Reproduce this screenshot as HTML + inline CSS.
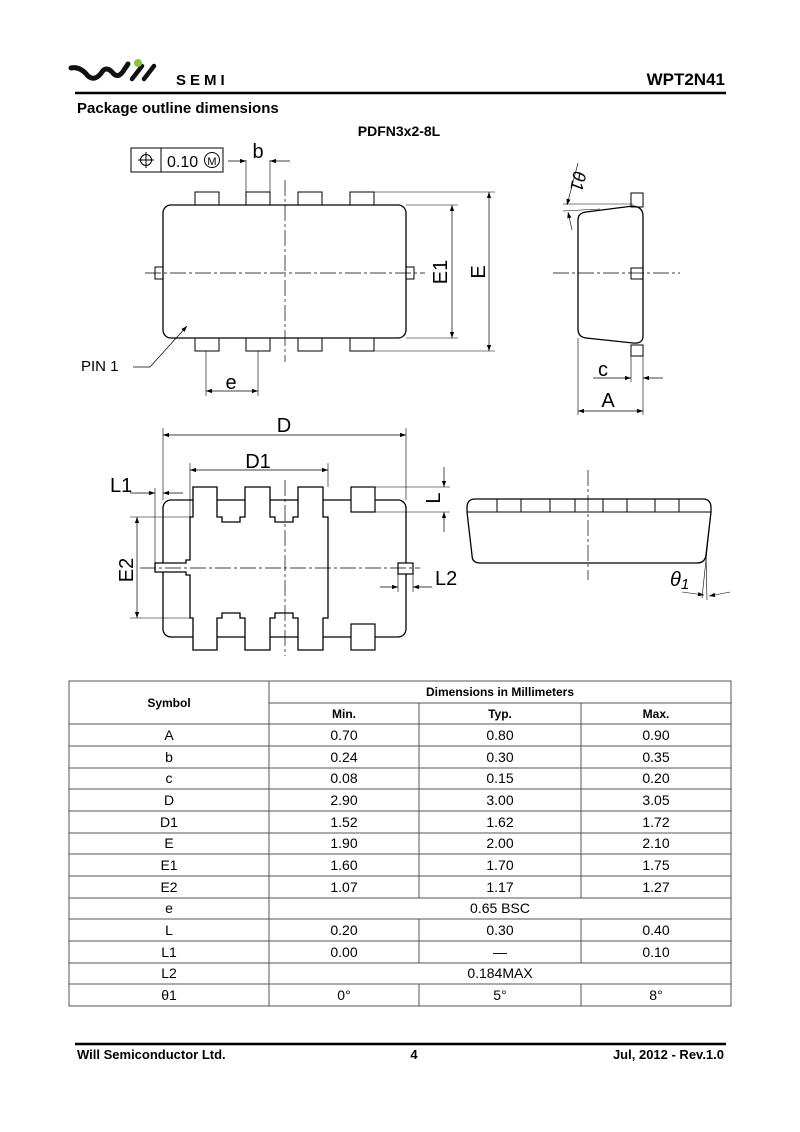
<!DOCTYPE html>
<html><head><meta charset="utf-8"><style>
html,body{margin:0;padding:0;background:#fff;}
svg{display:block;}
text{font-family:"Liberation Sans",sans-serif;fill:#000;}
.n{font-family:"Liberation Sans Narrow","Liberation Sans",sans-serif;font-size:14px;}
.b{font-weight:bold;}
</style></head><body>
<svg width="800" height="1132" viewBox="0 0 800 1132" xmlns="http://www.w3.org/2000/svg">
<defs>
<marker id="a" viewBox="0 0 10 10" refX="10" refY="5" markerWidth="9" markerHeight="6" orient="auto-start-reverse" markerUnits="userSpaceOnUse"><path d="M0,1.5 L10,5 L0,8.5 z" fill="#000"/></marker>
</defs>
<!-- header -->
<path d="M71,68 Q80,66 88,76 Q95,82 102,72 Q106,66 112,72 Q118,80 124,70 L128,64" fill="none" stroke="#111" stroke-width="5" stroke-linecap="round"/>
<path d="M132,79 L142,66 M144,79 L154,66" stroke="#111" stroke-width="4.5" stroke-linecap="round"/>
<circle cx="138" cy="63" r="4" fill="#8bc53f"/>
<text x="176" y="85" font-size="15" letter-spacing="4" font-weight="bold" fill="#222">SEMI</text>
<text x="725" y="85" font-size="17" class="b" text-anchor="end">WPT2N41</text>
<line x1="75" y1="93" x2="726" y2="93" stroke="#000" stroke-width="2.5"/>
<text x="77" y="113" font-size="15" class="b">Package outline dimensions</text>
<text x="399" y="136" font-size="14" class="b" text-anchor="middle">PDFN3x2-8L</text>

<g fill="none" stroke="#000" stroke-width="1">
<!-- tolerance box -->
<rect x="131" y="148" width="92" height="24"/>
<line x1="161" y1="148" x2="161" y2="172"/>
<circle cx="146" cy="160" r="5.5"/>
<line x1="146" y1="152" x2="146" y2="168"/><line x1="138" y1="160" x2="154" y2="160"/>
<circle cx="212" cy="160" r="7.5"/>
<!-- b dim -->
<line x1="246" y1="160" x2="246" y2="192" stroke-width="0.6"/><line x1="270" y1="160" x2="270" y2="192" stroke-width="0.6"/>
<line x1="228" y1="161" x2="246" y2="161" marker-end="url(#a)" stroke-width="0.7"/>
<line x1="290" y1="161" x2="270" y2="161" marker-end="url(#a)" stroke-width="0.7"/>
<!-- top view -->
<rect x="195" y="192" width="24" height="13"/><rect x="246" y="192" width="24" height="13"/><rect x="298" y="192" width="24" height="13"/><rect x="350" y="192" width="24" height="13"/>
<rect x="195" y="338" width="24" height="13"/><rect x="246" y="338" width="24" height="13"/><rect x="298" y="338" width="24" height="13"/><rect x="350" y="338" width="24" height="13"/>
<rect x="155" y="267" width="8" height="12"/><rect x="406" y="267" width="8" height="12"/>
<rect x="163" y="205" width="243" height="133" rx="8" stroke-width="1.3"/>
<line x1="285" y1="180" x2="285" y2="362" stroke-dasharray="16,3,3,3" stroke-width="0.7"/>
<line x1="145" y1="273" x2="425" y2="273" stroke-dasharray="16,3,3,3" stroke-width="0.7"/>
<!-- E1 E -->
<line x1="374" y1="192" x2="495" y2="192" stroke-width="0.6"/><line x1="374" y1="351" x2="495" y2="351" stroke-width="0.6"/>
<line x1="406" y1="205" x2="458" y2="205" stroke-width="0.6"/><line x1="406" y1="338" x2="458" y2="338" stroke-width="0.6"/>
<line x1="452" y1="205" x2="452" y2="338" marker-start="url(#a)" marker-end="url(#a)" stroke-width="0.7"/>
<line x1="489" y1="192" x2="489" y2="351" marker-start="url(#a)" marker-end="url(#a)" stroke-width="0.7"/>
<!-- pin1 -->
<polyline points="133,367 150,367 187,326" stroke-width="0.7" marker-end="url(#a)"/>
<!-- e -->
<line x1="206" y1="351" x2="206" y2="396" stroke-width="0.6"/><line x1="258" y1="351" x2="258" y2="396" stroke-width="0.6"/>
<line x1="206" y1="391" x2="258" y2="391" marker-start="url(#a)" marker-end="url(#a)" stroke-width="0.7"/>

<!-- right side view -->
<rect x="631" y="193" width="12" height="14"/><rect x="631" y="345" width="12" height="11"/>
<rect x="631" y="268" width="12" height="11"/>
<path d="M586,212 L633,206 Q643,207 643,216 L643,336 Q643,344 633,343 L586,338 Q578,337 578,329 L578,220 Q578,213 586,212 Z" stroke-width="1.3"/>
<line x1="553" y1="273" x2="680" y2="273" stroke-dasharray="16,3,3,3" stroke-width="0.7"/>
<line x1="563" y1="204" x2="633" y2="204" stroke-width="0.6"/>
<line x1="563" y1="211" x2="600" y2="209" stroke-width="0.6"/>
<path d="M578,163 L567,205" stroke-width="0.6" marker-end="url(#a)"/>
<path d="M572,230 L568,212" stroke-width="0.6" marker-end="url(#a)"/>
<line x1="578" y1="338" x2="578" y2="415" stroke-width="0.6"/><line x1="643" y1="356" x2="643" y2="415" stroke-width="0.6"/>
<line x1="631" y1="356" x2="631" y2="382" stroke-width="0.6"/>
<line x1="593" y1="378" x2="631" y2="378" marker-end="url(#a)" stroke-width="0.7"/>
<line x1="663" y1="378" x2="643" y2="378" marker-end="url(#a)" stroke-width="0.7"/>
<line x1="578" y1="411" x2="643" y2="411" marker-start="url(#a)" marker-end="url(#a)" stroke-width="0.7"/>

<!-- bottom view -->
<line x1="163" y1="428" x2="163" y2="500" stroke-width="0.6"/><line x1="406" y1="428" x2="406" y2="500" stroke-width="0.6"/>
<line x1="163" y1="435" x2="406" y2="435" marker-start="url(#a)" marker-end="url(#a)" stroke-width="0.7"/>
<line x1="190" y1="463" x2="190" y2="517" stroke-width="0.6"/><line x1="328" y1="463" x2="328" y2="487" stroke-width="0.6"/>
<line x1="190" y1="470" x2="328" y2="470" marker-start="url(#a)" marker-end="url(#a)" stroke-width="0.7"/>
<rect x="163" y="500" width="243" height="137" rx="8" stroke-width="1.3"/>
<path d="M193,487 L217,487 L217,517 L222,517 L222,522 L240,522 L240,517 L245,517 L245,487 L270,487 L270,517 L275,517 L275,522 L293,522 L293,517 L298,517 L298,487 L323,487 L323,517 L328,517 L328,618 L323,618 L323,650 L298,650 L298,618 L293,618 L293,613 L275,613 L275,618 L270,618 L270,650 L245,650 L245,618 L240,618 L240,613 L222,613 L222,618 L217,618 L217,650 L193,650 L193,618 L190,618 L190,575 L186,575 L186,572 L155,572 L155,563 L186,563 L186,560 L190,560 L190,517 L193,517 Z" fill="#fff" stroke-width="1.3"/>
<rect x="351" y="487" width="24" height="25" fill="#fff" stroke-width="1.2"/>
<rect x="351" y="624" width="24" height="26" fill="#fff" stroke-width="1.2"/>
<rect x="398" y="563" width="15" height="11" fill="#fff" stroke-width="1.2"/>
<line x1="285" y1="480" x2="285" y2="656" stroke-dasharray="16,3,3,3" stroke-width="0.7"/>
<line x1="140" y1="568" x2="420" y2="568" stroke-dasharray="16,3,3,3" stroke-width="0.7"/>
<!-- L1 -->
<line x1="155" y1="488" x2="155" y2="563" stroke-width="0.6"/>
<line x1="130" y1="493" x2="155" y2="493" marker-end="url(#a)" stroke-width="0.7"/>
<line x1="183" y1="493" x2="163" y2="493" marker-end="url(#a)" stroke-width="0.7"/>
<!-- L -->
<line x1="375" y1="487" x2="450" y2="487" stroke-width="0.6"/><line x1="375" y1="512" x2="450" y2="512" stroke-width="0.6"/>
<line x1="444" y1="467" x2="444" y2="487" marker-end="url(#a)" stroke-width="0.7"/>
<line x1="444" y1="532" x2="444" y2="512" marker-end="url(#a)" stroke-width="0.7"/>
<!-- E2 -->
<line x1="130" y1="517" x2="190" y2="517" stroke-width="0.6"/><line x1="130" y1="618" x2="190" y2="618" stroke-width="0.6"/>
<line x1="137" y1="517" x2="137" y2="618" marker-start="url(#a)" marker-end="url(#a)" stroke-width="0.7"/>
<!-- L2 -->
<line x1="398" y1="574" x2="398" y2="592" stroke-width="0.6"/><line x1="413" y1="574" x2="413" y2="592" stroke-width="0.6"/>
<line x1="380" y1="587" x2="398" y2="587" marker-end="url(#a)" stroke-width="0.7"/>
<line x1="432" y1="587" x2="413" y2="587" marker-end="url(#a)" stroke-width="0.7"/>

<!-- front side view -->
<path d="M475,499 L703,499 Q711,499 711,508 L711,512 L706,555 Q705,563 697,563 L480,563 Q472,563 472,555 L467,512 L467,508 Q467,499 475,499 Z" stroke-width="1.3"/>
<line x1="467" y1="512" x2="711" y2="512" stroke-width="1"/>
<path d="M497,499V512M521,499V512M550,499V512M575,499V512M603,499V512M627,499V512M655,499V512M679,499V512"/>
<line x1="588" y1="470" x2="588" y2="580" stroke-dasharray="16,3,3,3" stroke-width="0.7"/>
<line x1="711" y1="512" x2="702" y2="598" stroke-width="0.6"/>
<line x1="706" y1="555" x2="707" y2="600" stroke-width="0.6"/>
<line x1="682" y1="592" x2="704" y2="595" marker-end="url(#a)" stroke-width="0.6"/>
<line x1="730" y1="592" x2="709" y2="596" marker-end="url(#a)" stroke-width="0.6"/>
</g>
<!-- drawing labels -->
<g font-size="20">
<text x="167" y="167" font-size="16">0.10</text>
<text x="212" y="165" font-size="11" text-anchor="middle">M</text>
<text x="258" y="158" text-anchor="middle">b</text>
<text x="81" y="371" font-size="15">PIN 1</text>
<text x="231" y="389" text-anchor="middle">e</text>
<text transform="translate(447,272) rotate(-90)" text-anchor="middle">E1</text>
<text transform="translate(485,272) rotate(-90)" text-anchor="middle">E</text>
<text transform="translate(572,180) rotate(100)" text-anchor="middle" font-size="18" font-style="italic">θ1</text>
<text x="603" y="376" text-anchor="middle">c</text>
<text x="608" y="407" text-anchor="middle">A</text>
<text x="284" y="432" text-anchor="middle">D</text>
<text x="258" y="468" text-anchor="middle">D1</text>
<text x="110" y="492">L1</text>
<text transform="translate(440,498) rotate(-90)" text-anchor="middle">L</text>
<text transform="translate(133,570) rotate(-90)" text-anchor="middle">E2</text>
<text x="435" y="585">L2</text>
<text x="670" y="586" font-style="italic">θ<tspan font-size="15" dy="3">1</tspan></text>
</g>

<!-- table -->
<g stroke="#555" stroke-width="1" fill="none">
<rect x="69" y="681" width="662" height="325"/>
<line x1="269" y1="681" x2="269" y2="1006"/>
<line x1="269" y1="703" x2="731" y2="703"/>
<line x1="69" y1="724" x2="731" y2="724"/>
<line x1="419" y1="703" x2="419" y2="898"/><line x1="581" y1="703" x2="581" y2="898"/>
<line x1="419" y1="919" x2="419" y2="963"/><line x1="581" y1="919" x2="581" y2="963"/>
<line x1="419" y1="984" x2="419" y2="1006"/><line x1="581" y1="984" x2="581" y2="1006"/>
<path d="M69,746H731M69,768H731M69,789H731M69,811H731M69,833H731M69,854H731M69,876H731M69,898H731M69,919H731M69,941H731M69,963H731M69,984H731"/>
</g>
<g font-size="12" class="b" text-anchor="middle">
<text x="500" y="696">Dimensions in Millimeters</text>
<text x="169" y="707">Symbol</text>
<text x="344" y="718">Min.</text><text x="500" y="718">Typ.</text><text x="656" y="718">Max.</text>
</g>
<g class="n" text-anchor="middle">
<text x="169" y="740">A</text><text x="344" y="740">0.70</text><text x="500" y="740">0.80</text><text x="656" y="740">0.90</text>
<text x="169" y="762">b</text><text x="344" y="762">0.24</text><text x="500" y="762">0.30</text><text x="656" y="762">0.35</text>
<text x="169" y="783">c</text><text x="344" y="783">0.08</text><text x="500" y="783">0.15</text><text x="656" y="783">0.20</text>
<text x="169" y="805">D</text><text x="344" y="805">2.90</text><text x="500" y="805">3.00</text><text x="656" y="805">3.05</text>
<text x="169" y="827">D1</text><text x="344" y="827">1.52</text><text x="500" y="827">1.62</text><text x="656" y="827">1.72</text>
<text x="169" y="848">E</text><text x="344" y="848">1.90</text><text x="500" y="848">2.00</text><text x="656" y="848">2.10</text>
<text x="169" y="870">E1</text><text x="344" y="870">1.60</text><text x="500" y="870">1.70</text><text x="656" y="870">1.75</text>
<text x="169" y="892">E2</text><text x="344" y="892">1.07</text><text x="500" y="892">1.17</text><text x="656" y="892">1.27</text>
<text x="169" y="913">e</text><text x="500" y="913">0.65 BSC</text>
<text x="169" y="935">L</text><text x="344" y="935">0.20</text><text x="500" y="935">0.30</text><text x="656" y="935">0.40</text>
<text x="169" y="957">L1</text><text x="344" y="957">0.00</text><text x="500" y="957">—</text><text x="656" y="957">0.10</text>
<text x="169" y="978">L2</text><text x="500" y="978">0.184MAX</text>
<text x="169" y="1000">θ1</text><text x="344" y="1000">0°</text><text x="500" y="1000">5°</text><text x="656" y="1000">8°</text>
</g>

<!-- footer -->
<line x1="75" y1="1044" x2="726" y2="1044" stroke="#000" stroke-width="2.5"/>
<g font-size="13" class="b">
<text x="77" y="1059">Will Semiconductor Ltd.</text>
<text x="414" y="1059" text-anchor="middle">4</text>
<text x="724" y="1059" text-anchor="end">Jul, 2012 - Rev.1.0</text>
</g>
</svg>
</body></html>
